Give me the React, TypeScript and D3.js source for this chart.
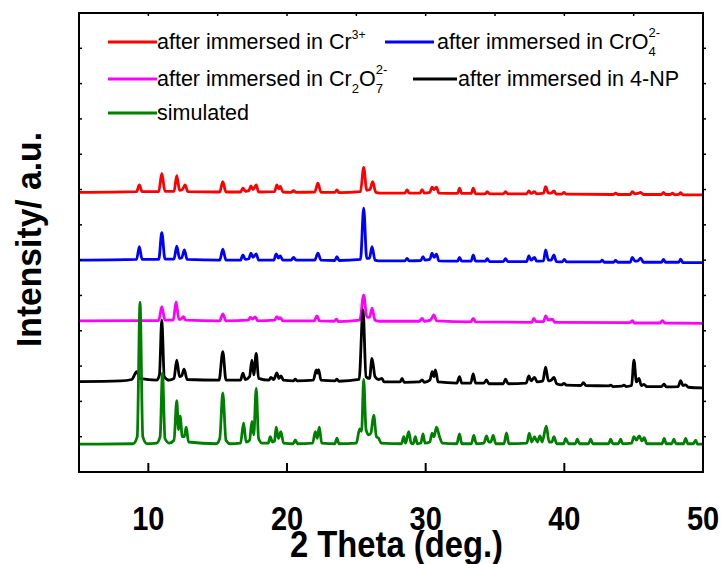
import React from "react";
import * as d3 from "d3";

type P = [number, number];

const xTicksMajor = [10, 20, 30, 40, 50];
const xTicksTop = [10, 15, 20, 25, 30, 35, 40, 45];
const yTicks = [1, 2, 3, 4, 5, 6, 7, 8, 9, 10, 11, 12];

const redData: P[] = [[5,7.92],[9.15,7.94],[9.35,8.13],[9.55,7.94],[10.75,7.94],[10.97,8.46],[11.2,7.95],[11.85,7.95],[12.05,8.39],[12.25,7.98],[12.45,8.0],[12.65,8.13],[12.85,7.94],
[15.15,7.93],[15.37,8.22],[15.6,7.93],[16.65,7.93],[16.82,8.04],[17.0,7.95],[17.25,7.97],[17.4,8.1],[17.55,8.0],[17.78,8.13],[17.95,7.93],
[19.1,7.94],[19.27,8.13],[19.4,8.02],[19.51,8.09],[19.7,7.93],[20.3,7.92],[20.47,7.97],[20.65,7.92],[22.0,7.93],[22.23,8.18],[22.45,7.92],[23.45,7.92],[23.6,7.99],[23.75,7.91],
[25.3,7.94],[25.53,8.63],[25.75,7.98],[25.98,8.0],[26.18,8.22],[26.4,7.92],[26.7,7.9],
[28.5,7.9],[28.66,7.99],[28.8,7.9],[29.6,7.9],[29.74,8.0],[29.9,7.9],[30.3,7.92],[30.46,8.07],[30.6,8.0],[30.78,8.07],[30.95,7.9],
[32.3,7.89],[32.44,8.04],[32.6,7.89],[33.28,7.89],[33.43,8.04],[33.6,7.88],[34.3,7.88],[34.44,7.94],[34.6,7.88],[35.6,7.88],[35.76,7.94],[35.92,7.88],
[37.28,7.88],[37.44,7.96],[37.6,7.89],[37.85,7.94],[38.0,7.88],[38.5,7.9],[38.65,8.08],[38.85,7.9],[39.05,7.9],[39.25,7.96],[39.42,7.87],[39.82,7.87],[39.97,7.92],[40.12,7.87],[43.55,7.86],[43.7,7.9],[43.85,7.86],[44.75,7.86],[44.9,7.94],[45.1,7.88],[45.3,7.89],[45.5,7.92],[45.7,7.86],[47.0,7.86],[47.15,7.92],[47.3,7.86],[47.65,7.86],[47.8,7.9],[47.95,7.85],[48.25,7.86],[48.39,7.91],[48.55,7.85],[50,7.85]];

const blueData: P[] = [[5,6.0],[9.15,6.02],[9.35,6.38],[9.55,6.02],[10.75,6.02],[10.97,6.78],[11.2,6.03],[11.85,6.03],[12.05,6.4],[12.25,6.05],[12.4,6.06],[12.6,6.29],[12.8,6.02],
[15.15,6.0],[15.37,6.31],[15.6,6.0],[16.65,6.0],[16.82,6.15],[17.0,6.02],[17.25,6.04],[17.4,6.2],[17.55,6.08],[17.78,6.18],[17.95,6.0],
[19.05,6.0],[19.22,6.18],[19.38,6.06],[19.51,6.12],[19.7,6.0],[20.3,6.0],[20.47,6.08],[20.65,6.0],[22.0,6.0],[22.23,6.2],[22.45,6.0],[23.45,5.99],[23.6,6.1],[23.75,5.99],
[25.3,6.02],[25.53,7.47],[25.75,6.05],[25.95,6.06],[26.13,6.38],[26.35,6.0],[26.6,5.98],
[28.5,5.98],[28.66,6.05],[28.8,5.98],[29.65,5.99],[29.81,6.1],[29.95,6.0],[30.3,6.02],[30.46,6.2],[30.6,6.08],[30.78,6.17],[30.95,5.98],
[32.3,5.97],[32.44,6.08],[32.6,5.97],[33.28,5.97],[33.43,6.15],[33.6,5.97],[34.3,5.97],[34.44,6.04],[34.6,5.96],[35.6,5.96],[35.76,6.04],[35.92,5.96],
[37.28,5.96],[37.44,6.12],[37.6,6.0],[37.85,6.08],[38.0,5.97],[38.5,5.98],[38.65,6.29],[38.85,6.0],[39.05,6.0],[39.25,6.15],[39.42,5.96],[39.85,5.95],[40.0,6.02],[40.15,5.95],[42.6,5.95],[42.73,6.0],[42.88,5.94],[43.55,5.94],[43.7,5.99],[43.85,5.94],[44.75,5.94],[44.9,6.08],[45.1,5.97],[45.3,5.98],[45.5,6.06],[45.7,5.94],[47.0,5.94],[47.15,6.02],[47.3,5.94],[48.25,5.94],[48.39,6.03],[48.55,5.93],[50,5.93]];

const magentaData: P[] = [[5,4.28],[10.75,4.29],[10.97,4.68],[11.2,4.3],[11.8,4.3],[12.0,4.82],[12.2,4.32],[12.35,4.33],[12.53,4.4],[12.7,4.3],
[15.15,4.28],[15.37,4.48],[15.6,4.28],[17.2,4.3],[17.35,4.38],[17.5,4.33],[17.7,4.39],[17.9,4.28],
[19.1,4.3],[19.27,4.4],[19.4,4.34],[19.5,4.37],[19.7,4.28],[21.95,4.28],[22.16,4.42],[22.35,4.28],[23.4,4.27],[23.56,4.33],[23.7,4.26],
[25.25,4.3],[25.53,5.01],[25.75,4.4],[25.95,4.38],[26.13,4.64],[26.35,4.3],[26.7,4.27],
[29.55,4.27],[29.74,4.35],[29.9,4.27],[30.35,4.3],[30.58,4.45],[30.8,4.28],[33.25,4.25],[33.43,4.35],[33.6,4.25],[37.65,4.24],[37.8,4.35],[37.95,4.26],[38.5,4.26],[38.65,4.42],[38.85,4.3],[39.13,4.33],[39.3,4.24],[44.75,4.23],[44.9,4.29],[45.05,4.22],[46.9,4.22],[47.07,4.29],[47.25,4.22],[50,4.21]];

const blackData: P[] = [[5,2.56],[8.0,2.58],[8.8,2.62],[9.16,2.84],[9.4,2.65],[10.6,2.6],[10.8,2.75],[10.97,4.31],[11.15,2.7],[11.5,2.6],
[11.85,2.65],[12.05,3.17],[12.25,2.7],[12.4,2.72],[12.58,2.91],[12.8,2.62],
[15.1,2.6],[15.37,3.41],[15.6,2.6],
[16.65,2.6],[16.82,2.8],[17.0,2.62],[17.3,2.7],[17.47,3.17],[17.6,2.75],[17.78,3.36],[17.95,2.65],
[18.7,2.6],[18.84,2.68],[19.05,2.62],[19.27,2.81],[19.42,2.65],[19.56,2.72],[19.75,2.6],
[20.45,2.58],[20.6,2.63],[20.75,2.58],
[21.9,2.6],[22.11,2.89],[22.2,2.8],[22.28,2.9],[22.45,2.6],
[23.45,2.58],[23.6,2.63],[23.75,2.57],
[25.2,2.62],[25.48,4.6],[25.7,2.7],[25.95,2.65],[26.13,3.22],[26.35,2.7],[26.6,2.62],[26.85,2.65],[27.0,2.55],
[28.15,2.55],[28.3,2.65],[28.45,2.54],[29.55,2.55],[29.74,2.61],[29.9,2.54],[30.3,2.6],[30.47,2.84],[30.6,2.7],[30.7,2.89],[30.9,2.55],
[32.25,2.52],[32.44,2.7],[32.6,2.52],[33.25,2.52],[33.43,2.78],[33.6,2.52],[34.2,2.52],[34.39,2.61],[34.55,2.5],[35.6,2.5],[35.76,2.63],[35.95,2.5],
[37.25,2.52],[37.44,2.72],[37.6,2.58],[37.85,2.68],[38.05,2.55],[38.45,2.58],[38.65,2.97],[38.85,2.58],[39.05,2.6],[39.25,2.68],[39.45,2.5],[39.8,2.47],[39.97,2.51],[40.15,2.46],[41.2,2.45],[41.37,2.53],[41.55,2.45],[43.2,2.44],[43.34,2.46],[43.5,2.42],[44.15,2.43],[44.3,2.46],[44.45,2.42],[44.85,2.45],[45.02,3.17],[45.2,2.55],[45.38,2.65],[45.55,2.45],[45.74,2.48],[45.95,2.42],[47.0,2.42],[47.19,2.49],[47.35,2.41],[48.2,2.42],[48.39,2.59],[48.55,2.45],[48.75,2.47],[48.95,2.4],[50,2.38]];

const greenData: P[] = [[5,0.79],[8.9,0.8],[9.2,1.0],[9.4,4.81],[9.6,1.0],[9.9,0.8],
[10.6,0.82],[10.85,1.0],[11.02,2.8],[11.2,0.95],[11.5,0.82],
[11.85,0.9],[12.05,2.02],[12.18,1.2],[12.29,1.59],[12.45,1.0],[12.6,1.0],[12.73,1.27],[12.9,0.85],
[14.9,0.8],[15.15,0.95],[15.37,2.24],[15.6,0.9],[15.9,0.8],
[16.65,0.82],[16.87,1.39],[17.05,0.85],[17.3,0.9],[17.47,1.43],[17.6,1.05],[17.78,2.37],[17.95,0.95],[18.2,0.82],
[18.65,0.82],[18.79,1.0],[18.95,0.85],[19.1,0.88],[19.22,1.27],[19.38,0.95],[19.56,1.14],[19.75,0.82],
[20.45,0.8],[20.6,0.91],[20.75,0.8],
[21.85,0.82],[22.04,1.14],[22.18,0.95],[22.33,1.27],[22.5,0.82],
[23.45,0.8],[23.6,0.96],[23.75,0.8],
[25.0,0.82],[25.24,1.22],[25.38,1.15],[25.53,2.62],[25.7,1.2],[25.9,1.05],[26.05,1.1],[26.25,1.61],[26.45,1.0],[26.6,0.96],[26.8,0.82],
[28.25,0.8],[28.42,1.0],[28.55,0.82],[28.78,1.14],[28.95,0.82],[29.1,0.8],[29.26,1.0],[29.4,0.8],[29.65,0.82],[29.81,1.08],[29.95,0.82],[30.3,0.85],[30.46,1.1],[30.6,1.0],[30.78,1.27],[31.0,1.0],[31.2,0.82],
[32.25,0.8],[32.44,1.08],[32.6,0.8],[33.3,0.8],[33.47,1.04],[33.65,0.8],[34.2,0.82],[34.39,1.02],[34.55,0.85],[34.7,0.85],[34.87,1.04],[35.05,0.8],[35.65,0.8],[35.83,1.11],[36.0,0.8],
[37.3,0.82],[37.47,1.1],[37.65,0.85],[37.85,1.0],[38.05,0.85],[38.24,1.02],[38.4,0.85],[38.7,1.3],[38.9,0.85],[39.1,0.85],[39.25,1.0],[39.45,0.8],[39.95,0.8],[40.1,0.95],[40.3,0.8],[40.8,0.8],[40.93,0.93],[41.1,0.8],[41.75,0.8],[41.9,0.93],[42.05,0.8],[43.2,0.8],[43.34,0.93],[43.5,0.8],[43.9,0.8],[44.06,0.93],[44.2,0.8],[44.85,0.82],[45.02,1.0],[45.2,0.9],[45.4,1.02],[45.6,0.88],[45.76,0.97],[45.95,0.8],[47.05,0.8],[47.2,0.95],[47.35,0.8],[47.75,0.8],[47.9,0.93],[48.05,0.8],[48.6,0.8],[48.75,0.95],[48.9,0.8],[49.3,0.8],[49.47,0.9],[49.6,0.79],[50,0.79]];

const seriesList = [
  { name: "red", color: "#ff0000", data: redData },
  { name: "blue", color: "#0000ff", data: blueData },
  { name: "magenta", color: "#ff00ff", data: magentaData },
  { name: "black", color: "#000000", data: blackData },
  { name: "green", color: "#008000", data: greenData },
];

const FONT = "'Liberation Sans', Arial, Helvetica, sans-serif";

export default function App() {
  const left = 79, right = 703, top = 13, bottom = 472;
  const x = d3.scaleLinear().domain([5, 50]).range([left, right]);
  const y = d3.scaleLinear().domain([0, 13]).range([bottom, top]);
  const line = d3
    .line<P>()
    .x((d) => x(d[0]))
    .y((d) => y(d[1]))
    .curve(d3.curveMonotoneX);

  const legendFs = 21.5;
  const legendItems = [
    { color: "#ff0000", x1: 108, x2: 157, ly: 42 },
    { color: "#0000ff", x1: 385, x2: 434, ly: 42 },
    { color: "#ff00ff", x1: 108, x2: 157, ly: 79 },
    { color: "#000000", x1: 413, x2: 457, ly: 79 },
    { color: "#008000", x1: 108, x2: 157, ly: 113 },
  ];

  return (
    <svg
      width={721}
      height={564}
      style={{ position: "absolute", left: 0, top: 0, background: "#fff" }}
      fontFamily={FONT}
    >
      <rect x={0} y={0} width={721} height={564} fill="#fff" />
      <defs>
        <clipPath id="plotClip">
          <rect x={left} y={top} width={right - left} height={bottom - top} />
        </clipPath>
      </defs>
      <g clipPath="url(#plotClip)">
        {seriesList.map((s) => (
          <path
            key={s.name}
            d={line(s.data) || ""}
            fill="none"
            stroke={s.color}
            strokeWidth={2.8}
            strokeLinejoin="round"
          />
        ))}
      </g>
      <rect
        x={left}
        y={top}
        width={right - left}
        height={bottom - top}
        fill="none"
        stroke="#000"
        strokeWidth={2}
      />
      {xTicksMajor.map((t) => (
        <line key={"b" + t} x1={x(t)} x2={x(t)} y1={bottom} y2={bottom - 9} stroke="#000" strokeWidth={2} />
      ))}
      {xTicksTop.map((t) => (
        <line key={"t" + t} x1={x(t)} x2={x(t)} y1={top} y2={top + 3} stroke="#000" strokeWidth={1.5} />
      ))}
      {yTicks.map((t) => (
        <g key={"y" + t}>
          <line x1={left} x2={left + 3} y1={y(t)} y2={y(t)} stroke="#000" strokeWidth={1.5} />
          <line x1={right} x2={right + 3} y1={y(t)} y2={y(t)} stroke="#000" strokeWidth={1.5} />
        </g>
      ))}
      {xTicksMajor.map((t) => (
        <text
          key={"l" + t}
          transform={`translate(${x(t)},530) scale(1,1.15)`}
          textAnchor="middle"
          fontSize={29}
          fontWeight="bold"
          fill="#000"
        >
          {t}
        </text>
      ))}
      <text
        transform={`translate(396.5,557) scale(1,1.12)`}
        textAnchor="middle"
        fontSize={33}
        fontWeight="bold"
        textLength={213}
        lengthAdjust="spacingAndGlyphs"
        fill="#000"
      >
        2 Theta (deg.)
      </text>
      <text
        transform={`translate(41,239.5) rotate(-90)`}
        textAnchor="middle"
        fontSize={35}
        fontWeight="bold"
        textLength={215}
        lengthAdjust="spacingAndGlyphs"
        fill="#000"
      >
        Intensity/ a.u.
      </text>
      {legendItems.map((it, i) => (
        <line key={"lg" + i} x1={it.x1} x2={it.x2} y1={it.ly} y2={it.ly} stroke={it.color} strokeWidth={3} />
      ))}
      <text x={157} y={49} fontSize={legendFs} fill="#000">
        after immersed in Cr
        <tspan fontSize={12} dy={-10}>3+</tspan>
      </text>
      <text x={437} y={49} fontSize={legendFs} fill="#000">
        after immersed in CrO
        <tspan fontSize={13} dy={7}>4</tspan>
        <tspan fontSize={13} dx={-7.2} dy={-19}>2-</tspan>
      </text>
      <text x={157} y={86} fontSize={legendFs} fill="#000">
        after immersed in Cr
        <tspan fontSize={13} dy={7}>2</tspan>
        <tspan dy={-7}>O</tspan>
        <tspan fontSize={13} dy={7}>7</tspan>
        <tspan fontSize={13} dx={-7.2} dy={-19}>2-</tspan>
      </text>
      <text x={458} y={86} fontSize={legendFs} fill="#000">
        after immersed in 4-NP
      </text>
      <text x={157} y={120} fontSize={legendFs} fill="#000">
        simulated
      </text>
    </svg>
  );
}
